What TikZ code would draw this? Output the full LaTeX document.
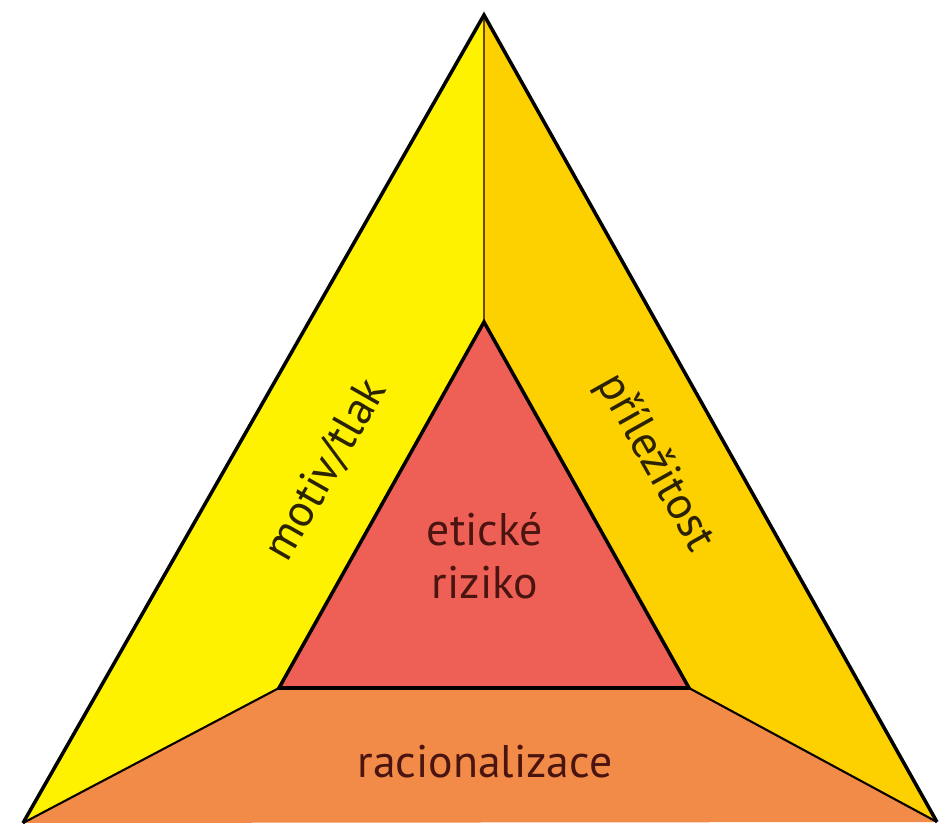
\documentclass[tikz,border=0pt]{standalone}
\usepackage{fontspec}
\setmainfont{PT Sans}
\definecolor{Lemon}{HTML}{FFF200}
\definecolor{Gold}{HTML}{FDD000}
\definecolor{Coral}{HTML}{EE6055}
\definecolor{Tangerine}{HTML}{F28A48}
\definecolor{Bark}{HTML}{4A1410}
\definecolor{Ink}{HTML}{2A2200}
\definecolor{Seam}{HTML}{6B4A00}

\begin{document}
\begin{tikzpicture}[
    x=0.01cm,y=-0.01cm,
    rim/.style={draw=black,line width=1pt,line join=miter},
    seam/.style={draw=black!85!Bark,line width=0.6pt},
    spine/.style={draw=Seam,line width=0.6pt},
    label/.style={font=\fontsize{13}{15}\selectfont,inner sep=0pt,align=center}
]
\useasboundingbox (0,0) rectangle (941,827);
% corners
\coordinate (top) at (484,15);
\coordinate (left) at (23,823);
\coordinate (right) at (937,822);
\coordinate (itop) at (484,322);
\coordinate (ileft) at (279,688);
\coordinate (iright) at (689,688);
% areas
\fill[Lemon] (top) -- (itop) -- (ileft) -- (left) -- cycle;
\fill[Gold] (top) -- (right) -- (iright) -- (itop) -- cycle;
\fill[Coral] (itop) -- (iright) -- (ileft) -- cycle;
\fill[Tangerine] (ileft) -- (iright) -- (right) -- (left) -- cycle;
% lines
\draw[spine] (top) -- (itop);
\draw[seam] (ileft) -- (left);
\draw[seam] (iright) -- (right);
\draw[rim] (itop) -- (iright) -- (ileft) -- cycle;
\draw[rim] (left) -- (top) -- (right);
% texts
\node[label,text=Ink,rotate=60.3] (motiv) at (326,470) {motiv/tlak};
\node[label,text=Ink,rotate=-60.7] (prilez) at (655,463) {příležitost};
\node[label,text=Bark] (riziko) at (485,556) {etické\\riziko};
\node[label,text=Bark] (racio) at (485,762) {racionalizace};
\end{tikzpicture}
\end{document}
